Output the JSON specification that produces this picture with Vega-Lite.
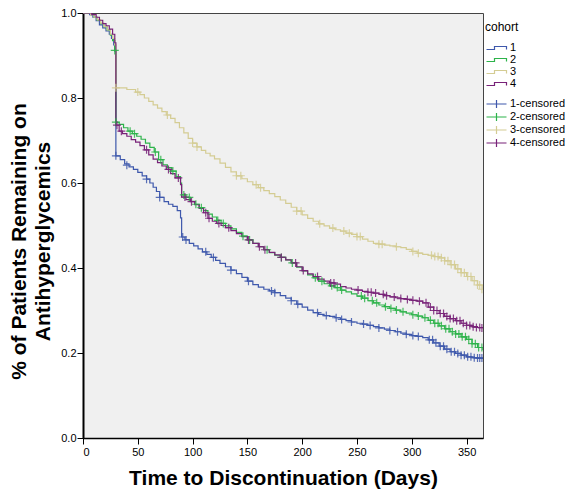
{
  "$schema": "https://vega.github.io/schema/vega-lite/v6.json",
  "autosize": "none",
  "padding": {"left": 83, "top": 13, "right": 82, "bottom": 55},
  "width": 400,
  "height": 425,
  "background": "white",
  "config": {
    "view": {"fill": "#f0f0f0", "stroke": "#444444", "strokeWidth": 1},
    "font": "Liberation Sans",
    "point": {"shape": "M-1,0H1M0,-1V1"},
    "axis": {"grid": false, "labelColor": "black", "tickColor": "black", "domainColor": "black", "titleColor": "black", "labelFont": "Liberation Sans", "titleFont": "Liberation Sans"},
    "legend": {"labelFont": "Liberation Sans", "titleFont": "Liberation Sans"}
  },
  "resolve": {"scale": {"color": "independent"}, "legend": {"color": "independent"}},
  "datasets": {
    "curves": [
      {"cohort":"1","t":0,"s":1.0},{"cohort":"1","t":6,"s":0.996},{"cohort":"1","t":9,"s":0.99},{"cohort":"1","t":12,"s":0.982},{"cohort":"1","t":15,"s":0.972},{"cohort":"1","t":18,"s":0.965},{"cohort":"1","t":21,"s":0.958},{"cohort":"1","t":24,"s":0.95},{"cohort":"1","t":26,"s":0.94},{"cohort":"1","t":28,"s":0.925},{"cohort":"1","t":29,"s":0.91},{"cohort":"1","t":30,"s":0.664},{"cohort":"1","t":34,"s":0.655},{"cohort":"1","t":38,"s":0.645},{"cohort":"1","t":42,"s":0.638},{"cohort":"1","t":46,"s":0.632},{"cohort":"1","t":50,"s":0.625},{"cohort":"1","t":54,"s":0.617},{"cohort":"1","t":58,"s":0.609},{"cohort":"1","t":61,"s":0.6},{"cohort":"1","t":64,"s":0.59},{"cohort":"1","t":67,"s":0.58},{"cohort":"1","t":70,"s":0.566},{"cohort":"1","t":74,"s":0.556},{"cohort":"1","t":78,"s":0.55},{"cohort":"1","t":82,"s":0.545},{"cohort":"1","t":86,"s":0.535},{"cohort":"1","t":89,"s":0.518},{"cohort":"1","t":90,"s":0.473},{"cohort":"1","t":93,"s":0.466},{"cohort":"1","t":97,"s":0.458},{"cohort":"1","t":101,"s":0.452},{"cohort":"1","t":105,"s":0.445},{"cohort":"1","t":109,"s":0.438},{"cohort":"1","t":113,"s":0.432},{"cohort":"1","t":117,"s":0.425},{"cohort":"1","t":121,"s":0.418},{"cohort":"1","t":125,"s":0.411},{"cohort":"1","t":130,"s":0.403},{"cohort":"1","t":135,"s":0.395},{"cohort":"1","t":140,"s":0.387},{"cohort":"1","t":145,"s":0.378},{"cohort":"1","t":150,"s":0.369},{"cohort":"1","t":155,"s":0.361},{"cohort":"1","t":160,"s":0.355},{"cohort":"1","t":165,"s":0.35},{"cohort":"1","t":170,"s":0.346},{"cohort":"1","t":175,"s":0.342},{"cohort":"1","t":180,"s":0.335},{"cohort":"1","t":185,"s":0.329},{"cohort":"1","t":190,"s":0.323},{"cohort":"1","t":195,"s":0.315},{"cohort":"1","t":200,"s":0.308},{"cohort":"1","t":205,"s":0.301},{"cohort":"1","t":210,"s":0.295},{"cohort":"1","t":215,"s":0.291},{"cohort":"1","t":220,"s":0.288},{"cohort":"1","t":225,"s":0.286},{"cohort":"1","t":230,"s":0.283},{"cohort":"1","t":235,"s":0.279},{"cohort":"1","t":240,"s":0.276},{"cohort":"1","t":245,"s":0.273},{"cohort":"1","t":250,"s":0.27},{"cohort":"1","t":255,"s":0.268},{"cohort":"1","t":260,"s":0.265},{"cohort":"1","t":265,"s":0.262},{"cohort":"1","t":270,"s":0.259},{"cohort":"1","t":275,"s":0.256},{"cohort":"1","t":280,"s":0.253},{"cohort":"1","t":285,"s":0.25},{"cohort":"1","t":290,"s":0.247},{"cohort":"1","t":295,"s":0.244},{"cohort":"1","t":300,"s":0.241},{"cohort":"1","t":305,"s":0.239},{"cohort":"1","t":310,"s":0.236},{"cohort":"1","t":315,"s":0.231},{"cohort":"1","t":320,"s":0.224},{"cohort":"1","t":325,"s":0.216},{"cohort":"1","t":330,"s":0.209},{"cohort":"1","t":335,"s":0.203},{"cohort":"1","t":340,"s":0.199},{"cohort":"1","t":345,"s":0.195},{"cohort":"1","t":350,"s":0.191},{"cohort":"1","t":355,"s":0.189},{"cohort":"1","t":360,"s":0.188},{"cohort":"1","t":365,"s":0.188},

      {"cohort":"2","t":0,"s":1.0},{"cohort":"2","t":7,"s":0.996},{"cohort":"2","t":10,"s":0.99},{"cohort":"2","t":13,"s":0.983},{"cohort":"2","t":16,"s":0.975},{"cohort":"2","t":19,"s":0.968},{"cohort":"2","t":22,"s":0.96},{"cohort":"2","t":25,"s":0.948},{"cohort":"2","t":27,"s":0.935},{"cohort":"2","t":29,"s":0.912},{"cohort":"2","t":30,"s":0.743},{"cohort":"2","t":33,"s":0.738},{"cohort":"2","t":37,"s":0.73},{"cohort":"2","t":41,"s":0.722},{"cohort":"2","t":45,"s":0.716},{"cohort":"2","t":49,"s":0.71},{"cohort":"2","t":53,"s":0.703},{"cohort":"2","t":57,"s":0.694},{"cohort":"2","t":61,"s":0.684},{"cohort":"2","t":65,"s":0.673},{"cohort":"2","t":69,"s":0.655},{"cohort":"2","t":73,"s":0.643},{"cohort":"2","t":77,"s":0.636},{"cohort":"2","t":81,"s":0.628},{"cohort":"2","t":85,"s":0.615},{"cohort":"2","t":89,"s":0.6},{"cohort":"2","t":90,"s":0.572},{"cohort":"2","t":94,"s":0.566},{"cohort":"2","t":98,"s":0.557},{"cohort":"2","t":102,"s":0.55},{"cohort":"2","t":106,"s":0.542},{"cohort":"2","t":110,"s":0.535},{"cohort":"2","t":114,"s":0.527},{"cohort":"2","t":118,"s":0.52},{"cohort":"2","t":122,"s":0.512},{"cohort":"2","t":126,"s":0.505},{"cohort":"2","t":130,"s":0.499},{"cohort":"2","t":135,"s":0.492},{"cohort":"2","t":140,"s":0.484},{"cohort":"2","t":145,"s":0.475},{"cohort":"2","t":150,"s":0.466},{"cohort":"2","t":155,"s":0.458},{"cohort":"2","t":160,"s":0.45},{"cohort":"2","t":165,"s":0.443},{"cohort":"2","t":170,"s":0.436},{"cohort":"2","t":175,"s":0.43},{"cohort":"2","t":180,"s":0.425},{"cohort":"2","t":185,"s":0.419},{"cohort":"2","t":190,"s":0.412},{"cohort":"2","t":195,"s":0.402},{"cohort":"2","t":200,"s":0.393},{"cohort":"2","t":205,"s":0.384},{"cohort":"2","t":210,"s":0.377},{"cohort":"2","t":215,"s":0.369},{"cohort":"2","t":220,"s":0.363},{"cohort":"2","t":225,"s":0.358},{"cohort":"2","t":230,"s":0.354},{"cohort":"2","t":235,"s":0.348},{"cohort":"2","t":240,"s":0.344},{"cohort":"2","t":245,"s":0.339},{"cohort":"2","t":250,"s":0.334},{"cohort":"2","t":255,"s":0.329},{"cohort":"2","t":260,"s":0.323},{"cohort":"2","t":265,"s":0.318},{"cohort":"2","t":270,"s":0.313},{"cohort":"2","t":275,"s":0.309},{"cohort":"2","t":280,"s":0.305},{"cohort":"2","t":285,"s":0.301},{"cohort":"2","t":290,"s":0.297},{"cohort":"2","t":295,"s":0.294},{"cohort":"2","t":300,"s":0.29},{"cohort":"2","t":305,"s":0.287},{"cohort":"2","t":310,"s":0.283},{"cohort":"2","t":315,"s":0.277},{"cohort":"2","t":320,"s":0.27},{"cohort":"2","t":325,"s":0.264},{"cohort":"2","t":330,"s":0.257},{"cohort":"2","t":335,"s":0.25},{"cohort":"2","t":340,"s":0.245},{"cohort":"2","t":345,"s":0.238},{"cohort":"2","t":350,"s":0.232},{"cohort":"2","t":355,"s":0.222},{"cohort":"2","t":360,"s":0.213},{"cohort":"2","t":365,"s":0.207},

      {"cohort":"3","t":0,"s":1.0},{"cohort":"3","t":7,"s":0.996},{"cohort":"3","t":10,"s":0.99},{"cohort":"3","t":13,"s":0.984},{"cohort":"3","t":16,"s":0.976},{"cohort":"3","t":19,"s":0.968},{"cohort":"3","t":22,"s":0.96},{"cohort":"3","t":25,"s":0.95},{"cohort":"3","t":27,"s":0.94},{"cohort":"3","t":29,"s":0.925},{"cohort":"3","t":30,"s":0.824},{"cohort":"3","t":40,"s":0.82},{"cohort":"3","t":48,"s":0.814},{"cohort":"3","t":52,"s":0.808},{"cohort":"3","t":56,"s":0.8},{"cohort":"3","t":60,"s":0.792},{"cohort":"3","t":64,"s":0.784},{"cohort":"3","t":68,"s":0.776},{"cohort":"3","t":72,"s":0.768},{"cohort":"3","t":76,"s":0.76},{"cohort":"3","t":80,"s":0.752},{"cohort":"3","t":84,"s":0.742},{"cohort":"3","t":88,"s":0.73},{"cohort":"3","t":92,"s":0.718},{"cohort":"3","t":96,"s":0.705},{"cohort":"3","t":100,"s":0.694},{"cohort":"3","t":104,"s":0.685},{"cohort":"3","t":108,"s":0.677},{"cohort":"3","t":112,"s":0.67},{"cohort":"3","t":116,"s":0.664},{"cohort":"3","t":120,"s":0.657},{"cohort":"3","t":125,"s":0.647},{"cohort":"3","t":130,"s":0.637},{"cohort":"3","t":135,"s":0.626},{"cohort":"3","t":140,"s":0.617},{"cohort":"3","t":145,"s":0.61},{"cohort":"3","t":150,"s":0.603},{"cohort":"3","t":155,"s":0.596},{"cohort":"3","t":160,"s":0.589},{"cohort":"3","t":165,"s":0.582},{"cohort":"3","t":170,"s":0.575},{"cohort":"3","t":175,"s":0.568},{"cohort":"3","t":180,"s":0.56},{"cohort":"3","t":185,"s":0.552},{"cohort":"3","t":190,"s":0.543},{"cohort":"3","t":195,"s":0.534},{"cohort":"3","t":200,"s":0.525},{"cohort":"3","t":205,"s":0.517},{"cohort":"3","t":210,"s":0.51},{"cohort":"3","t":215,"s":0.504},{"cohort":"3","t":220,"s":0.499},{"cohort":"3","t":225,"s":0.494},{"cohort":"3","t":230,"s":0.49},{"cohort":"3","t":235,"s":0.487},{"cohort":"3","t":240,"s":0.482},{"cohort":"3","t":245,"s":0.479},{"cohort":"3","t":250,"s":0.474},{"cohort":"3","t":255,"s":0.468},{"cohort":"3","t":260,"s":0.463},{"cohort":"3","t":265,"s":0.458},{"cohort":"3","t":270,"s":0.456},{"cohort":"3","t":275,"s":0.454},{"cohort":"3","t":280,"s":0.452},{"cohort":"3","t":285,"s":0.45},{"cohort":"3","t":290,"s":0.448},{"cohort":"3","t":295,"s":0.444},{"cohort":"3","t":300,"s":0.439},{"cohort":"3","t":305,"s":0.435},{"cohort":"3","t":310,"s":0.432},{"cohort":"3","t":315,"s":0.43},{"cohort":"3","t":320,"s":0.427},{"cohort":"3","t":325,"s":0.424},{"cohort":"3","t":330,"s":0.417},{"cohort":"3","t":335,"s":0.408},{"cohort":"3","t":340,"s":0.398},{"cohort":"3","t":345,"s":0.389},{"cohort":"3","t":350,"s":0.38},{"cohort":"3","t":355,"s":0.37},{"cohort":"3","t":360,"s":0.36},{"cohort":"3","t":365,"s":0.35},

      {"cohort":"4","t":0,"s":1.0},{"cohort":"4","t":8,"s":0.996},{"cohort":"4","t":12,"s":0.99},{"cohort":"4","t":15,"s":0.983},{"cohort":"4","t":18,"s":0.975},{"cohort":"4","t":21,"s":0.97},{"cohort":"4","t":24,"s":0.962},{"cohort":"4","t":27,"s":0.95},{"cohort":"4","t":29,"s":0.93},{"cohort":"4","t":30,"s":0.736},{"cohort":"4","t":33,"s":0.722},{"cohort":"4","t":36,"s":0.716},{"cohort":"4","t":40,"s":0.71},{"cohort":"4","t":44,"s":0.702},{"cohort":"4","t":48,"s":0.696},{"cohort":"4","t":52,"s":0.688},{"cohort":"4","t":56,"s":0.678},{"cohort":"4","t":60,"s":0.666},{"cohort":"4","t":64,"s":0.656},{"cohort":"4","t":68,"s":0.648},{"cohort":"4","t":72,"s":0.64},{"cohort":"4","t":76,"s":0.632},{"cohort":"4","t":80,"s":0.622},{"cohort":"4","t":84,"s":0.612},{"cohort":"4","t":89,"s":0.596},{"cohort":"4","t":90,"s":0.567},{"cohort":"4","t":94,"s":0.561},{"cohort":"4","t":98,"s":0.556},{"cohort":"4","t":102,"s":0.549},{"cohort":"4","t":106,"s":0.54},{"cohort":"4","t":110,"s":0.53},{"cohort":"4","t":114,"s":0.517},{"cohort":"4","t":118,"s":0.51},{"cohort":"4","t":122,"s":0.505},{"cohort":"4","t":126,"s":0.5},{"cohort":"4","t":130,"s":0.495},{"cohort":"4","t":135,"s":0.488},{"cohort":"4","t":140,"s":0.481},{"cohort":"4","t":145,"s":0.474},{"cohort":"4","t":150,"s":0.466},{"cohort":"4","t":155,"s":0.458},{"cohort":"4","t":160,"s":0.45},{"cohort":"4","t":165,"s":0.443},{"cohort":"4","t":170,"s":0.437},{"cohort":"4","t":175,"s":0.431},{"cohort":"4","t":180,"s":0.425},{"cohort":"4","t":185,"s":0.419},{"cohort":"4","t":190,"s":0.412},{"cohort":"4","t":195,"s":0.403},{"cohort":"4","t":200,"s":0.394},{"cohort":"4","t":205,"s":0.386},{"cohort":"4","t":210,"s":0.38},{"cohort":"4","t":215,"s":0.374},{"cohort":"4","t":220,"s":0.369},{"cohort":"4","t":225,"s":0.365},{"cohort":"4","t":230,"s":0.362},{"cohort":"4","t":235,"s":0.356},{"cohort":"4","t":240,"s":0.353},{"cohort":"4","t":245,"s":0.35},{"cohort":"4","t":250,"s":0.348},{"cohort":"4","t":255,"s":0.345},{"cohort":"4","t":260,"s":0.343},{"cohort":"4","t":265,"s":0.341},{"cohort":"4","t":270,"s":0.338},{"cohort":"4","t":275,"s":0.335},{"cohort":"4","t":280,"s":0.332},{"cohort":"4","t":285,"s":0.33},{"cohort":"4","t":290,"s":0.328},{"cohort":"4","t":295,"s":0.326},{"cohort":"4","t":300,"s":0.324},{"cohort":"4","t":305,"s":0.322},{"cohort":"4","t":310,"s":0.318},{"cohort":"4","t":315,"s":0.308},{"cohort":"4","t":320,"s":0.3},{"cohort":"4","t":325,"s":0.293},{"cohort":"4","t":330,"s":0.286},{"cohort":"4","t":335,"s":0.281},{"cohort":"4","t":340,"s":0.276},{"cohort":"4","t":345,"s":0.27},{"cohort":"4","t":350,"s":0.265},{"cohort":"4","t":355,"s":0.262},{"cohort":"4","t":360,"s":0.26},{"cohort":"4","t":365,"s":0.259}
    ],
    "censored": [
      {"cohort":"1-censored","t":30,"s":0.664},{"cohort":"1-censored","t":40,"s":0.642},{"cohort":"1-censored","t":58,"s":0.609},{"cohort":"1-censored","t":70,"s":0.566},{"cohort":"1-censored","t":91,"s":0.473},{"cohort":"1-censored","t":94,"s":0.466},{"cohort":"1-censored","t":112,"s":0.438},{"cohort":"1-censored","t":119,"s":0.425},{"cohort":"1-censored","t":135,"s":0.395},{"cohort":"1-censored","t":151,"s":0.369},{"cohort":"1-censored","t":172,"s":0.346},{"cohort":"1-censored","t":175,"s":0.342},{"cohort":"1-censored","t":190,"s":0.323},{"cohort":"1-censored","t":196,"s":0.315},{"cohort":"1-censored","t":214,"s":0.295},{"cohort":"1-censored","t":222,"s":0.288},{"cohort":"1-censored","t":231,"s":0.283},{"cohort":"1-censored","t":236,"s":0.279},{"cohort":"1-censored","t":245,"s":0.273},{"cohort":"1-censored","t":256,"s":0.268},{"cohort":"1-censored","t":262,"s":0.265},{"cohort":"1-censored","t":270,"s":0.259},{"cohort":"1-censored","t":280,"s":0.253},{"cohort":"1-censored","t":287,"s":0.25},{"cohort":"1-censored","t":295,"s":0.244},{"cohort":"1-censored","t":301,"s":0.241},{"cohort":"1-censored","t":306,"s":0.239},{"cohort":"1-censored","t":316,"s":0.231},{"cohort":"1-censored","t":319,"s":0.231},{"cohort":"1-censored","t":322,"s":0.224},{"cohort":"1-censored","t":326,"s":0.216},{"cohort":"1-censored","t":329,"s":0.216},{"cohort":"1-censored","t":332,"s":0.209},{"cohort":"1-censored","t":336,"s":0.203},{"cohort":"1-censored","t":339,"s":0.203},{"cohort":"1-censored","t":342,"s":0.199},{"cohort":"1-censored","t":345,"s":0.195},{"cohort":"1-censored","t":348,"s":0.195},{"cohort":"1-censored","t":351,"s":0.191},{"cohort":"1-censored","t":354,"s":0.191},{"cohort":"1-censored","t":357,"s":0.189},{"cohort":"1-censored","t":360,"s":0.188},{"cohort":"1-censored","t":362,"s":0.188},{"cohort":"1-censored","t":364,"s":0.188},

      {"cohort":"2-censored","t":29,"s":0.912},{"cohort":"2-censored","t":30,"s":0.743},{"cohort":"2-censored","t":43,"s":0.722},{"cohort":"2-censored","t":47,"s":0.716},{"cohort":"2-censored","t":66,"s":0.673},{"cohort":"2-censored","t":71,"s":0.655},{"cohort":"2-censored","t":82,"s":0.628},{"cohort":"2-censored","t":92,"s":0.572},{"cohort":"2-censored","t":97,"s":0.566},{"cohort":"2-censored","t":103,"s":0.55},{"cohort":"2-censored","t":108,"s":0.542},{"cohort":"2-censored","t":123,"s":0.512},{"cohort":"2-censored","t":128,"s":0.505},{"cohort":"2-censored","t":146,"s":0.475},{"cohort":"2-censored","t":152,"s":0.466},{"cohort":"2-censored","t":168,"s":0.443},{"cohort":"2-censored","t":181,"s":0.425},{"cohort":"2-censored","t":191,"s":0.412},{"cohort":"2-censored","t":212,"s":0.377},{"cohort":"2-censored","t":218,"s":0.369},{"cohort":"2-censored","t":227,"s":0.358},{"cohort":"2-censored","t":232,"s":0.354},{"cohort":"2-censored","t":236,"s":0.348},{"cohort":"2-censored","t":254,"s":0.334},{"cohort":"2-censored","t":257,"s":0.329},{"cohort":"2-censored","t":264,"s":0.323},{"cohort":"2-censored","t":268,"s":0.318},{"cohort":"2-censored","t":276,"s":0.309},{"cohort":"2-censored","t":281,"s":0.305},{"cohort":"2-censored","t":286,"s":0.301},{"cohort":"2-censored","t":292,"s":0.297},{"cohort":"2-censored","t":301,"s":0.29},{"cohort":"2-censored","t":306,"s":0.287},{"cohort":"2-censored","t":312,"s":0.283},{"cohort":"2-censored","t":317,"s":0.277},{"cohort":"2-censored","t":321,"s":0.27},{"cohort":"2-censored","t":324,"s":0.27},{"cohort":"2-censored","t":327,"s":0.264},{"cohort":"2-censored","t":331,"s":0.257},{"cohort":"2-censored","t":334,"s":0.257},{"cohort":"2-censored","t":337,"s":0.25},{"cohort":"2-censored","t":340,"s":0.245},{"cohort":"2-censored","t":343,"s":0.245},{"cohort":"2-censored","t":346,"s":0.238},{"cohort":"2-censored","t":349,"s":0.238},{"cohort":"2-censored","t":352,"s":0.232},{"cohort":"2-censored","t":355,"s":0.222},{"cohort":"2-censored","t":358,"s":0.222},{"cohort":"2-censored","t":361,"s":0.213},{"cohort":"2-censored","t":364,"s":0.213},

      {"cohort":"3-censored","t":30,"s":0.824},{"cohort":"3-censored","t":50,"s":0.814},{"cohort":"3-censored","t":77,"s":0.76},{"cohort":"3-censored","t":100,"s":0.694},{"cohort":"3-censored","t":104,"s":0.685},{"cohort":"3-censored","t":140,"s":0.617},{"cohort":"3-censored","t":144,"s":0.617},{"cohort":"3-censored","t":158,"s":0.596},{"cohort":"3-censored","t":162,"s":0.589},{"cohort":"3-censored","t":195,"s":0.534},{"cohort":"3-censored","t":199,"s":0.534},{"cohort":"3-censored","t":216,"s":0.504},{"cohort":"3-censored","t":228,"s":0.494},{"cohort":"3-censored","t":238,"s":0.487},{"cohort":"3-censored","t":243,"s":0.482},{"cohort":"3-censored","t":250,"s":0.474},{"cohort":"3-censored","t":253,"s":0.474},{"cohort":"3-censored","t":270,"s":0.456},{"cohort":"3-censored","t":273,"s":0.456},{"cohort":"3-censored","t":286,"s":0.45},{"cohort":"3-censored","t":301,"s":0.439},{"cohort":"3-censored","t":306,"s":0.435},{"cohort":"3-censored","t":318,"s":0.43},{"cohort":"3-censored","t":321,"s":0.427},{"cohort":"3-censored","t":324,"s":0.427},{"cohort":"3-censored","t":327,"s":0.424},{"cohort":"3-censored","t":330,"s":0.417},{"cohort":"3-censored","t":333,"s":0.417},{"cohort":"3-censored","t":336,"s":0.408},{"cohort":"3-censored","t":339,"s":0.408},{"cohort":"3-censored","t":342,"s":0.398},{"cohort":"3-censored","t":345,"s":0.389},{"cohort":"3-censored","t":348,"s":0.389},{"cohort":"3-censored","t":351,"s":0.38},{"cohort":"3-censored","t":354,"s":0.38},{"cohort":"3-censored","t":357,"s":0.37},{"cohort":"3-censored","t":360,"s":0.36},{"cohort":"3-censored","t":362,"s":0.36},{"cohort":"3-censored","t":364,"s":0.35},

      {"cohort":"4-censored","t":31,"s":0.736},{"cohort":"4-censored","t":35,"s":0.722},{"cohort":"4-censored","t":58,"s":0.678},{"cohort":"4-censored","t":78,"s":0.632},{"cohort":"4-censored","t":87,"s":0.612},{"cohort":"4-censored","t":93,"s":0.567},{"cohort":"4-censored","t":99,"s":0.556},{"cohort":"4-censored","t":112,"s":0.53},{"cohort":"4-censored","t":115,"s":0.517},{"cohort":"4-censored","t":124,"s":0.505},{"cohort":"4-censored","t":133,"s":0.495},{"cohort":"4-censored","t":151,"s":0.466},{"cohort":"4-censored","t":161,"s":0.45},{"cohort":"4-censored","t":166,"s":0.443},{"cohort":"4-censored","t":181,"s":0.425},{"cohort":"4-censored","t":194,"s":0.412},{"cohort":"4-censored","t":201,"s":0.394},{"cohort":"4-censored","t":214,"s":0.38},{"cohort":"4-censored","t":226,"s":0.365},{"cohort":"4-censored","t":229,"s":0.365},{"cohort":"4-censored","t":251,"s":0.348},{"cohort":"4-censored","t":260,"s":0.343},{"cohort":"4-censored","t":263,"s":0.343},{"cohort":"4-censored","t":267,"s":0.341},{"cohort":"4-censored","t":274,"s":0.338},{"cohort":"4-censored","t":277,"s":0.335},{"cohort":"4-censored","t":284,"s":0.332},{"cohort":"4-censored","t":290,"s":0.328},{"cohort":"4-censored","t":296,"s":0.326},{"cohort":"4-censored","t":301,"s":0.324},{"cohort":"4-censored","t":307,"s":0.322},{"cohort":"4-censored","t":313,"s":0.318},{"cohort":"4-censored","t":317,"s":0.308},{"cohort":"4-censored","t":320,"s":0.3},{"cohort":"4-censored","t":323,"s":0.3},{"cohort":"4-censored","t":326,"s":0.293},{"cohort":"4-censored","t":329,"s":0.293},{"cohort":"4-censored","t":332,"s":0.286},{"cohort":"4-censored","t":335,"s":0.281},{"cohort":"4-censored","t":338,"s":0.281},{"cohort":"4-censored","t":341,"s":0.276},{"cohort":"4-censored","t":344,"s":0.276},{"cohort":"4-censored","t":347,"s":0.27},{"cohort":"4-censored","t":350,"s":0.265},{"cohort":"4-censored","t":353,"s":0.265},{"cohort":"4-censored","t":356,"s":0.262},{"cohort":"4-censored","t":359,"s":0.26},{"cohort":"4-censored","t":362,"s":0.26},{"cohort":"4-censored","t":364,"s":0.259}
    ]
  },
  "layer": [
    {
      "data": {"name": "curves"},
      "mark": {"type": "line", "interpolate": "step-after", "strokeWidth": 1.2, "clip": true},
      "encoding": {
        "x": {"field": "t", "type": "quantitative", "scale": {"domain": [0, 365], "nice": false},
          "axis": {"values": [0,50,100,150,200,250,300,350], "title": "Time to Discontinuation (Days)", "titleFontSize": 21, "titleFontWeight": "bold", "titlePadding": 10, "labelFontSize": 11, "tickSize": 6, "labelPadding": 2, "domainWidth": 1.5}},
        "y": {"field": "s", "type": "quantitative", "scale": {"domain": [0, 1], "nice": false},
          "axis": {"values": [0,0.2,0.4,0.6,0.8,1.0], "format": ".1f", "title": ["% of Patients Remaining on", "Antihyperglycemics"], "titleFontSize": 21, "titleFontWeight": "bold", "titleLineHeight": 24, "titleX": -75, "titleY": 228, "titleBaseline": "top", "titleAlign": "center", "labelFontSize": 11, "tickSize": 6, "labelPadding": 1, "domainWidth": 2}},
        "color": {"field": "cohort", "type": "nominal",
          "scale": {"domain": ["1","2","3","4"],
                    "range": ["#3e58ac","#2cb34a","#d4cc93","#782278"]},
          "legend": {"title": "cohort", "orient": "none", "legendX": 402, "legendY": 9, "titleFontSize": 12, "titleFontWeight": "normal", "titlePadding": 8, "labelFontSize": 11, "symbolType": "M-0.9,0.3H0.7V-0.3H3.1V0.3", "symbolSize": 100, "symbolStrokeWidth": 1.2, "symbolOpacity": 1, "rowPadding": 1, "labelOffset": 13,
            "encode": {"title": {"dx": {"value": 21}}}}}
      }
    },
    {
      "data": {"name": "censored"},
      "mark": {"type": "point", "filled": false, "strokeWidth": 1.2, "opacity": 0.85, "size": 64, "clip": true},
      "encoding": {
        "x": {"field": "t", "type": "quantitative"},
        "y": {"field": "s", "type": "quantitative"},
        "color": {"field": "cohort", "type": "nominal",
          "scale": {"domain": ["1-censored","2-censored","3-censored","4-censored"],
                    "range": ["#3e58ac","#2cb34a","#d4cc93","#782278"]},
          "legend": {"title": null, "orient": "none", "legendX": 402, "legendY": 85, "labelFontSize": 11, "symbolType": "M-0.9,0H3.1M1.1,-0.8V0.8", "symbolSize": 100, "symbolStrokeWidth": 1.2, "symbolOpacity": 1, "rowPadding": -1, "labelOffset": 13}}
      }
    }
  ]
}
